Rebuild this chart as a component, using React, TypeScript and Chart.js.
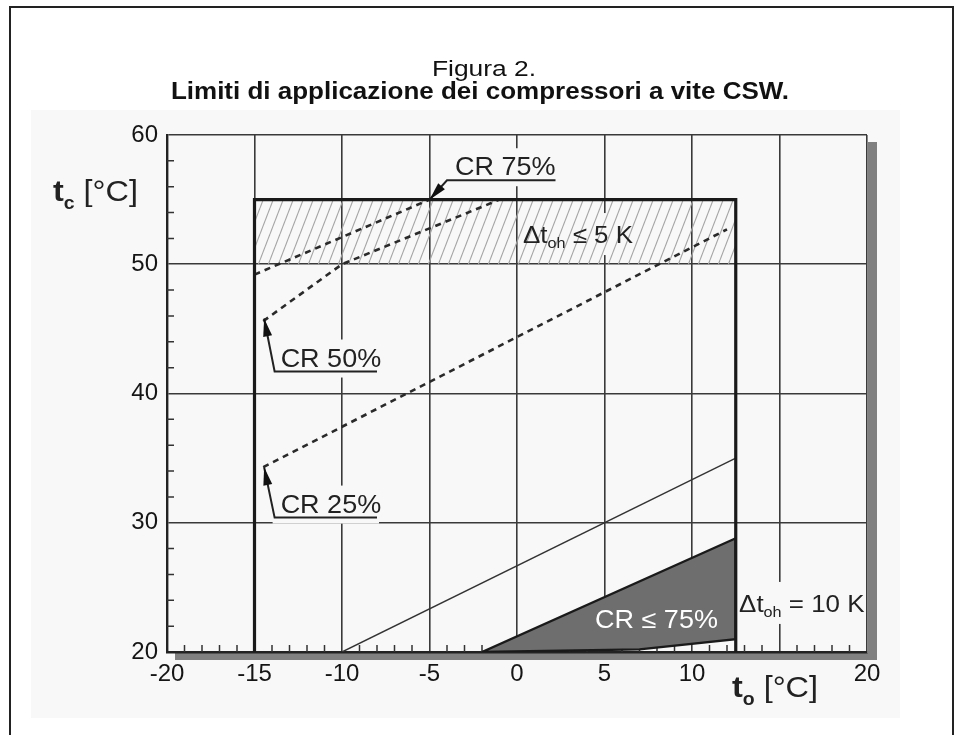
import React, { useEffect, useRef } from 'react';
import { Chart, registerables } from 'chart.js';

Chart.register(...registerables);

const FONT = '"Liberation Sans", Arial, Helvetica, sans-serif';

// Axis ranges and ticks
const xMin = -20;
const xMax = 20;
const yMin = 20;
const yMax = 60;
const xTickValues = [-20, -15, -10, -5, 0, 5, 10, 15, 20];
const xTickLabels = ['-20', '-15', '-10', '-5', '0', '5', '10', '', '20'];
const yTickValues = [20, 30, 40, 50, 60];
const yTickLabels = ['20', '30', '40', '50', '60'];
const xMinorTicks = [-19, -18, -17, -16, -14, -13, -12, -11, -9, -8, -7, -6, -4, -3, -2, -1, 1, 2, 3, 4, 6, 7, 8, 9, 11, 12, 13, 14, 16, 17, 18, 19];
const yMinorTicks = [22, 24, 26, 28, 32, 34, 36, 38, 42, 44, 46, 48, 52, 54, 56, 58];

// Application envelope (t_o, t_c)
const envelopeX = [-15, -15, 12.5, 12.5];
const envelopeY = [20, 55, 55, 20];
// Hatched band  Δt_oh ≤ 5 K
const hatchX = [-15, 12.5];
const hatchTopY = [55, 55];
const hatchBottomY = 50;
// Capacity regulation limits (dashed)
const cr75X = [-15, -5];
const cr75Y = [49.2, 55];
const cr50X = [-14.5, -10, -1];
const cr50Y = [45.6, 50, 55];
const cr25X = [-14.5, 12];
const cr25Y = [34.3, 52.7];
// Δt_oh = 10 K line
const oh10X = [-10, 12.5];
const oh10Y = [20, 35];
// CR ≤ 75% zone
const zoneX = [-2, 12.5, 12.5, 7, -2];
const zoneY = [20, 28.8, 21, 20.2, 20];

const titleLine1 = 'Figura 2.';
const titleLine2 = 'Limiti di applicazione dei compressori a vite CSW.';

// Callouts (data coordinates)
const callouts = [
  { text: 'CR 75%', tip: [-5, 55], elbow: [-4.0, 56.5], endX: 2.2, textDx: 8 },
  { text: 'CR 50%', tip: [-14.45, 45.8], elbow: [-13.85, 41.7], endX: -8.0, textDx: 6 },
  { text: 'CR 25%', tip: [-14.45, 34.3], elbow: [-13.85, 30.4], endX: -8.0, textDx: 6 },
];

const pts = (xs: number[], ys: number[]) => xs.map((x, i) => ({ x, y: ys[i] }));

type Part = { t: string; size: number; bold?: boolean; dy?: number };
const ohLabel5: Part[] = [
  { t: 'Δt', size: 24 },
  { t: 'oh', size: 15, dy: 5 },
  { t: ' ≤ 5 K', size: 24 },
];
const ohLabel10: Part[] = [
  { t: 'Δt', size: 24 },
  { t: 'oh', size: 15, dy: 5 },
  { t: ' = 10 K', size: 24 },
];
const zoneLabel: Part[] = [{ t: 'CR ≤ 75%', size: 25 }];
const labelPos5 = [0.34, 51.64];
const labelPos10 = [12.69, 23.1];
const zoneLabelPos = [4.46, 21.86];

const PANEL = '#f8f8f8';
const TEXT_SX = 1.08;

function measureParts(ctx: CanvasRenderingContext2D, parts: Part[], sx = 1) {
  let w = 0;
  for (const p of parts) {
    ctx.font = `${p.bold ? 'bold ' : ''}${p.size}px ${FONT}`;
    w += ctx.measureText(p.t).width;
  }
  return w * sx;
}

function drawParts(ctx: CanvasRenderingContext2D, parts: Part[], x: number, y: number, color: string, sx = 1) {
  ctx.save();
  ctx.translate(x, y);
  ctx.scale(sx, 1);
  let cx = 0;
  ctx.textAlign = 'left';
  ctx.textBaseline = 'alphabetic';
  ctx.fillStyle = color;
  for (const p of parts) {
    ctx.font = `${p.bold ? 'bold ' : ''}${p.size}px ${FONT}`;
    ctx.fillText(p.t, cx, p.dy || 0);
    cx += ctx.measureText(p.t).width;
  }
  ctx.restore();
}

function makeHatch(): CanvasPattern | string {
  const c = document.createElement('canvas');
  const w = 10;
  const h = 26;
  c.width = w;
  c.height = h;
  const g = c.getContext('2d');
  if (!g) return '#ddd';
  g.strokeStyle = '#a4a4a4';
  g.lineWidth = 1.1;
  for (const dx of [-w, 0, w]) {
    g.beginPath();
    g.moveTo(dx, h);
    g.lineTo(dx + w, 0);
    g.stroke();
  }
  return g.createPattern(c, 'repeat') || '#ddd';
}

const decorPlugin = {
  id: 'decor',
  beforeDraw(chart: any) {
    const { ctx, chartArea: a } = chart;
    ctx.save();
    ctx.fillStyle = '#ffffff';
    ctx.fillRect(0, 0, chart.width, chart.height);
    ctx.fillStyle = PANEL;
    ctx.fillRect(31, 110, 869, 608);
    // outer frame
    ctx.strokeStyle = '#222';
    ctx.lineWidth = 2;
    ctx.beginPath();
    ctx.moveTo(10, chart.height + 2);
    ctx.lineTo(10, 7);
    ctx.lineTo(953, 7);
    ctx.lineTo(953, chart.height + 2);
    ctx.stroke();
    // shadow
    ctx.fillStyle = '#808080';
    ctx.fillRect(a.right + 1, a.top + 7, 9, a.bottom - a.top + 1);
    ctx.fillRect(a.left + 8, a.bottom + 1, a.right - a.left + 2, 7);
    ctx.fillStyle = PANEL;
    ctx.fillRect(a.left, a.top, a.right - a.left, a.bottom - a.top);
    // titles
    const p1: Part[] = [{ t: titleLine1, size: 22 }];
    const p2: Part[] = [{ t: titleLine2, size: 23, bold: true }];
    const w1 = measureParts(ctx, p1, 1.2);
    const w2 = measureParts(ctx, p2, 1.13);
    drawParts(ctx, p1, 484 - w1 / 2, 76, '#111', 1.2);
    drawParts(ctx, p2, 480 - w2 / 2, 99, '#111', 1.13);
    ctx.restore();
  },
  beforeDatasetsDraw(chart: any) {
    const { ctx, chartArea: a, scales } = chart;
    const xs = scales.x;
    const ys = scales.y;
    ctx.save();
    ctx.beginPath();
    ctx.rect(a.left + 1, a.top + 1, a.right - a.left - 2, a.bottom - a.top - 2);
    ctx.clip();
    // background boxes behind labels (interrupt grid lines)
    ctx.fillStyle = PANEL;
    for (const c of callouts) {
      const ex = xs.getPixelForValue(c.elbow[0]);
      const ey = ys.getPixelForValue(c.elbow[1]);
      const endx = xs.getPixelForValue(c.endX);
      ctx.fillRect(ex - 2, ey - 32, endx - ex + 4, 38);
    }
    const boxes: [Part[], number[]][] = [
      [ohLabel5, labelPos5],
      [ohLabel10, labelPos10],
    ];
    for (const [parts, pos] of boxes) {
      const w = measureParts(ctx, parts, TEXT_SX);
      const px = xs.getPixelForValue(pos[0]);
      const py = ys.getPixelForValue(pos[1]);
      ctx.fillStyle = PANEL;
      ctx.fillRect(px - 3, py - 30, w + 6, 42);
    }
    ctx.restore();
    ctx.save();
    // minor ticks (inward)
    ctx.strokeStyle = '#333';
    ctx.lineWidth = 1.5;
    ctx.beginPath();
    for (const v of xMinorTicks) {
      const px = xs.getPixelForValue(v);
      ctx.moveTo(px, a.bottom);
      ctx.lineTo(px, a.bottom - 7);
    }
    for (const v of yMinorTicks) {
      const py = ys.getPixelForValue(v);
      ctx.moveTo(a.left, py);
      ctx.lineTo(a.left + 7, py);
    }
    ctx.stroke();
    ctx.restore();
  },
  afterDatasetsDraw(chart: any) {
    const { ctx, scales } = chart;
    const xs = scales.x;
    const ys = scales.y;
    ctx.save();
    // callouts
    for (const c of callouts) {
      const tx = xs.getPixelForValue(c.tip[0]);
      const ty = ys.getPixelForValue(c.tip[1]);
      const ex = xs.getPixelForValue(c.elbow[0]);
      const ey = ys.getPixelForValue(c.elbow[1]);
      const endx = xs.getPixelForValue(c.endX);
      ctx.strokeStyle = '#222';
      ctx.lineWidth = 2;
      ctx.beginPath();
      ctx.moveTo(endx, ey);
      ctx.lineTo(ex, ey);
      ctx.lineTo(tx, ty);
      ctx.stroke();
      // arrow head
      const ang = Math.atan2(ty - ey, tx - ex);
      const len = 18;
      const hw = 4.5;
      const bx = tx - len * Math.cos(ang);
      const by = ty - len * Math.sin(ang);
      const nx = -Math.sin(ang);
      const ny = Math.cos(ang);
      ctx.fillStyle = '#111';
      ctx.beginPath();
      ctx.moveTo(tx, ty);
      ctx.lineTo(bx + nx * hw, by + ny * hw);
      ctx.lineTo(bx - nx * hw, by - ny * hw);
      ctx.closePath();
      ctx.fill();
      drawParts(ctx, [{ t: c.text, size: 25 }], ex + c.textDx, ey - 5, '#222', TEXT_SX);
    }
    drawParts(ctx, ohLabel5, xs.getPixelForValue(labelPos5[0]), ys.getPixelForValue(labelPos5[1]), '#222', TEXT_SX);
    drawParts(ctx, ohLabel10, xs.getPixelForValue(labelPos10[0]), ys.getPixelForValue(labelPos10[1]), '#222', TEXT_SX);
    drawParts(ctx, zoneLabel, xs.getPixelForValue(zoneLabelPos[0]), ys.getPixelForValue(zoneLabelPos[1]), '#ffffff', TEXT_SX);
    ctx.restore();
  },
  afterDraw(chart: any) {
    const { ctx, chartArea: a } = chart;
    ctx.save();
    // axis titles
    drawParts(
      ctx,
      [
        { t: 't', size: 30, bold: true },
        { t: 'c', size: 18, bold: true, dy: 8 },
        { t: ' [°C]', size: 30 },
      ],
      a.left - 114,
      a.top + 66,
      '#222',
      1.08
    );
    drawParts(
      ctx,
      [
        { t: 't', size: 30, bold: true },
        { t: 'o', size: 18, bold: true, dy: 8 },
        { t: ' [°C]', size: 30 },
      ],
      a.left + 565,
      a.bottom + 45,
      '#222',
      1.08
    );
    ctx.restore();
  },
};

export default function App() {
  const ref = useRef<HTMLCanvasElement | null>(null);

  useEffect(() => {
    if (!ref.current) return;
    const hatch = makeHatch();
    const line = (data: any[], extra: any) => ({
      type: 'scatter',
      data,
      showLine: true,
      pointRadius: 0,
      pointHoverRadius: 0,
      fill: false,
      borderColor: '#1a1a1a',
      ...extra,
    });
    const chart = new Chart(ref.current, {
      type: 'scatter',
      data: {
        datasets: [
          line(pts(envelopeX, envelopeY), { label: 'Limiti', borderWidth: 3.2, order: 1, borderJoinStyle: 'miter' }),
          line(pts(cr75X, cr75Y), { label: 'CR 75%', borderWidth: 2.6, borderDash: [6, 5], borderColor: '#2a2a2a', order: 3 }),
          line(pts(cr50X, cr50Y), { label: 'CR 50%', borderWidth: 2.6, borderDash: [6, 5], borderColor: '#2a2a2a', order: 3 }),
          line(pts(cr25X, cr25Y), { label: 'CR 25%', borderWidth: 2.6, borderDash: [6, 5], borderColor: '#2a2a2a', order: 3 }),
          line(pts(oh10X, oh10Y), { label: 'Δt_oh = 10 K', borderWidth: 1.4, borderColor: '#333', order: 5 }),
          line(pts(zoneX, zoneY), {
            label: 'CR ≤ 75%',
            borderWidth: 2.4,
            fill: 'shape',
            backgroundColor: '#6e6e6e',
            order: 6,
          }),
          line(pts(hatchX, hatchTopY), {
            label: 'Δt_oh ≤ 5 K',
            borderWidth: 0,
            fill: { value: hatchBottomY },
            backgroundColor: hatch,
            order: 9,
          }),
        ],
      },
      options: {
        animation: false,
        responsive: false,
        devicePixelRatio: 1,
        events: [],
        layout: { padding: { top: 135, right: 93, bottom: 0, left: 0 } },
        plugins: {
          legend: { display: false },
          tooltip: { enabled: false },
          title: { display: false },
        },
        scales: {
          x: {
            type: 'linear',
            min: xMin,
            max: xMax,
            afterBuildTicks: (s: any) => {
              s.ticks = xTickValues.map((v) => ({ value: v }));
            },
            afterFit: (s: any) => {
              s.height = 83;
            },
            ticks: {
              autoSkip: false,
              maxRotation: 0,
              padding: 8,
              color: '#151515',
              font: { family: FONT, size: 24 },
              callback: (v: any) => {
                const i = xTickValues.indexOf(Number(v));
                return i >= 0 ? xTickLabels[i] : '';
              },
            },
            grid: { color: '#3a3a3a', lineWidth: 1.6, drawTicks: false },
            border: { display: true, color: '#222', width: 2.4 },
          },
          y: {
            type: 'linear',
            min: yMin,
            max: yMax,
            afterBuildTicks: (s: any) => {
              s.ticks = yTickValues.map((v) => ({ value: v }));
            },
            afterFit: (s: any) => {
              s.width = 167;
            },
            ticks: {
              autoSkip: false,
              padding: 9,
              color: '#151515',
              font: { family: FONT, size: 24 },
              callback: (v: any) => {
                const i = yTickValues.indexOf(Number(v));
                return i >= 0 ? yTickLabels[i] : '';
              },
            },
            grid: { color: '#3a3a3a', lineWidth: 1.6, drawTicks: false },
            border: { display: true, color: '#222', width: 2.4 },
          },
        },
      } as any,
      plugins: [decorPlugin],
    } as any);
    return () => chart.destroy();
  }, []);

  return (
    <div style={{ position: 'absolute', left: 0, top: 0, width: 960, height: 735, background: '#fff' }}>
      <canvas ref={ref} width={960} height={735} style={{ display: 'block', width: 960, height: 735 }} />
    </div>
  );
}
